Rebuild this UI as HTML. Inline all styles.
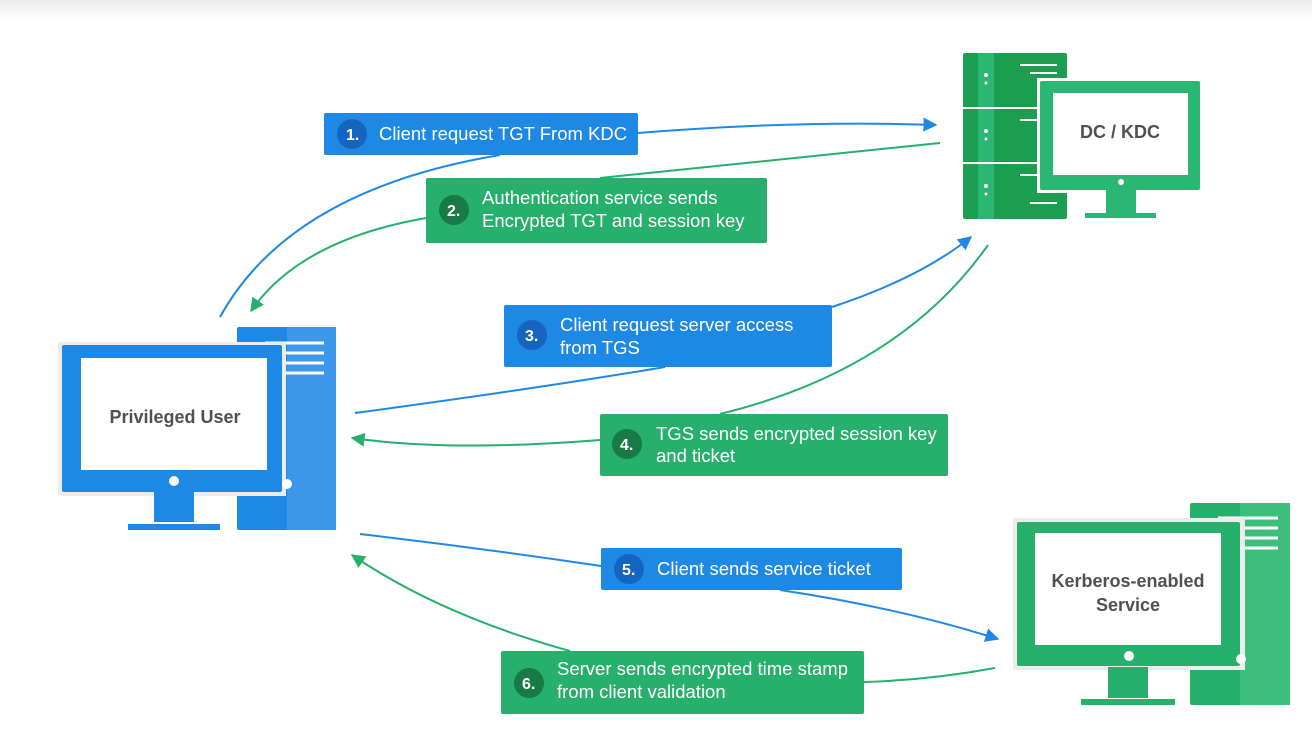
<!DOCTYPE html>
<html><head><style>
html,body{margin:0;padding:0;background:#fff;}
svg{display:block;font-family:"Liberation Sans",sans-serif;}
</style></head><body>
<svg width="1312" height="733" viewBox="0 0 1312 733" xmlns="http://www.w3.org/2000/svg">
<defs>
<linearGradient id="top" x1="0" y1="0" x2="0" y2="1"><stop offset="0" stop-color="#ececec"/><stop offset="1" stop-color="#fff"/></linearGradient>
<marker id="ab" viewBox="0 0 10 10" refX="9" refY="5" markerWidth="7" markerHeight="7" orient="auto"><path d="M0,0L10,5L0,10z" fill="#1e88e5"/></marker>
<marker id="ag" viewBox="0 0 10 10" refX="9" refY="5" markerWidth="7" markerHeight="7" orient="auto"><path d="M0,0L10,5L0,10z" fill="#27b06c"/></marker>
</defs>
<rect x="0" y="0" width="1312" height="22" fill="url(#top)"/>

<g fill="none" stroke-width="2">
<path d="M220,317 Q290,190 500,155" stroke="#1e88e5"/>
<path d="M638,133 Q800,120 936,125" stroke="#1e88e5" marker-end="url(#ab)"/>
<path d="M940,143 Q780,160 600,178" stroke="#27b06c"/>
<path d="M426,218 Q300,240 251,311" stroke="#27b06c" marker-end="url(#ag)"/>
<path d="M355,413 Q540,388 665,367" stroke="#1e88e5"/>
<path d="M832,307 Q920,278 971,237" stroke="#1e88e5" marker-end="url(#ab)"/>
<path d="M988,245 Q900,370 720,414" stroke="#27b06c"/>
<path d="M600,440 Q450,452 352,438" stroke="#27b06c" marker-end="url(#ag)"/>
<path d="M360,534 Q480,548 601,566" stroke="#1e88e5"/>
<path d="M780,590 Q900,608 998,639" stroke="#1e88e5" marker-end="url(#ab)"/>
<path d="M995,668 Q930,680 864,682" stroke="#27b06c"/>
<path d="M570,651 Q440,615 352,555" stroke="#27b06c" marker-end="url(#ag)"/>
</g>

<g>
<rect x="963" y="53" width="104" height="166" rx="2" fill="#1b9e4f"/>
<rect x="978" y="53" width="16" height="166" fill="#2bb673"/>
<line x1="963" y1="108" x2="1067" y2="108" stroke="#fff" stroke-width="2"/>
<line x1="963" y1="163" x2="1067" y2="163" stroke="#fff" stroke-width="2"/>
<g fill="#fff"><circle cx="986" cy="75" r="2"/><circle cx="986" cy="83" r="1.5"/><circle cx="986" cy="131" r="2"/><circle cx="986" cy="139" r="1.5"/><circle cx="986" cy="186" r="2"/><circle cx="986" cy="194" r="1.5"/></g>
<g stroke="#fff" stroke-width="2"><line x1="1020" y1="65" x2="1057" y2="65"/><line x1="1030" y1="73" x2="1057" y2="73"/><line x1="1020" y1="120" x2="1057" y2="120"/><line x1="1020" y1="175" x2="1057" y2="175"/><line x1="1030" y1="203" x2="1057" y2="203"/></g>
<rect x="1037" y="78" width="166" height="115" fill="#fff"/>
<rect x="1040" y="81" width="160" height="109" rx="2" fill="#2bb673"/>
<rect x="1053" y="93" width="135" height="82" fill="#fff"/>
<circle cx="1121" cy="182" r="3" fill="#fff"/>
<rect x="1106" y="190" width="30" height="23" fill="#2bb673"/>
<rect x="1085" y="213" width="71" height="5" fill="#2bb673"/>
<text x="1120" y="138" text-anchor="middle" font-size="18" font-weight="bold" fill="#505050">DC / KDC</text>
</g>

<g>
<rect x="237" y="327" width="99" height="203" rx="2" fill="#1e88e5"/>
<rect x="287" y="327" width="49" height="203" fill="#3d97ea"/>
<g stroke="#fff" stroke-width="3"><line x1="265" y1="343" x2="324" y2="343"/><line x1="265" y1="353" x2="324" y2="353"/><line x1="265" y1="363" x2="324" y2="363"/><line x1="265" y1="373" x2="324" y2="373"/></g>
<rect x="58" y="342" width="228" height="154" fill="#ececec"/>
<rect x="62" y="345" width="220" height="147" rx="2" fill="#1e88e5"/>
<rect x="81" y="358" width="186" height="112" fill="#fff"/>
<circle cx="174" cy="481" r="5" fill="#fff"/>
<circle cx="287" cy="484" r="5" fill="#fff"/>
<rect x="154" y="492" width="40" height="30" fill="#1e88e5"/>
<rect x="128" y="524" width="92" height="6" fill="#1e88e5"/>
<text x="175" y="423" text-anchor="middle" font-size="18" font-weight="bold" fill="#505050">Privileged User</text>
</g>

<g>
<rect x="1190" y="503" width="100" height="202" rx="2" fill="#27b06c"/>
<rect x="1240" y="503" width="50" height="202" fill="#3cbd7c"/>
<g stroke="#fff" stroke-width="3"><line x1="1218" y1="518" x2="1278" y2="518"/><line x1="1218" y1="528" x2="1278" y2="528"/><line x1="1218" y1="538" x2="1278" y2="538"/><line x1="1218" y1="548" x2="1278" y2="548"/></g>
<rect x="1013" y="518" width="232" height="152" fill="#ececec"/>
<rect x="1017" y="522" width="223" height="144" rx="2" fill="#27b06c"/>
<rect x="1035" y="533" width="186" height="112" fill="#fff"/>
<circle cx="1129" cy="656" r="5" fill="#fff"/>
<circle cx="1241" cy="659" r="5" fill="#fff"/>
<rect x="1108" y="667" width="40" height="31" fill="#27b06c"/>
<rect x="1081" y="699" width="94" height="6" fill="#27b06c"/>
<text x="1128" y="587" text-anchor="middle" font-size="18" font-weight="bold" fill="#505050">Kerberos-enabled</text>
<text x="1128" y="611" text-anchor="middle" font-size="18" font-weight="bold" fill="#505050">Service</text>
</g>

<g font-size="18.5" fill="#fff">
<rect x="324" y="113" width="314" height="42" rx="2" fill="#1e88e5"/>
<circle cx="352" cy="134" r="15" fill="#1565c0"/>
<text x="346" y="140" font-size="16" font-weight="bold">1.</text>
<text x="379" y="140">Client request TGT From KDC</text>

<rect x="426" y="178" width="341" height="65" rx="2" fill="#27b06c"/>
<circle cx="454" cy="210" r="15" fill="#187a45"/>
<text x="447" y="216" font-size="16" font-weight="bold">2.</text>
<text x="482" y="204">Authentication service sends</text>
<text x="482" y="227">Encrypted TGT and session key</text>

<rect x="504" y="305" width="328" height="62" rx="2" fill="#1e88e5"/>
<circle cx="532" cy="335" r="15" fill="#1565c0"/>
<text x="525" y="341" font-size="16" font-weight="bold">3.</text>
<text x="560" y="331">Client request server access</text>
<text x="560" y="354">from TGS</text>

<rect x="600" y="414" width="348" height="62" rx="2" fill="#27b06c"/>
<circle cx="627" cy="444" r="15" fill="#187a45"/>
<text x="620" y="450" font-size="16" font-weight="bold">4.</text>
<text x="656" y="440">TGS sends encrypted session key</text>
<text x="656" y="462">and ticket</text>

<rect x="601" y="548" width="301" height="42" rx="2" fill="#1e88e5"/>
<circle cx="629" cy="569" r="15" fill="#1565c0"/>
<text x="622" y="575" font-size="16" font-weight="bold">5.</text>
<text x="657" y="575">Client sends service ticket</text>

<rect x="501" y="651" width="363" height="63" rx="2" fill="#27b06c"/>
<circle cx="529" cy="683" r="15" fill="#187a45"/>
<text x="522" y="689" font-size="16" font-weight="bold">6.</text>
<text x="557" y="675">Server sends encrypted time stamp</text>
<text x="557" y="698">from client validation</text>
</g>
</svg>
</body></html>
